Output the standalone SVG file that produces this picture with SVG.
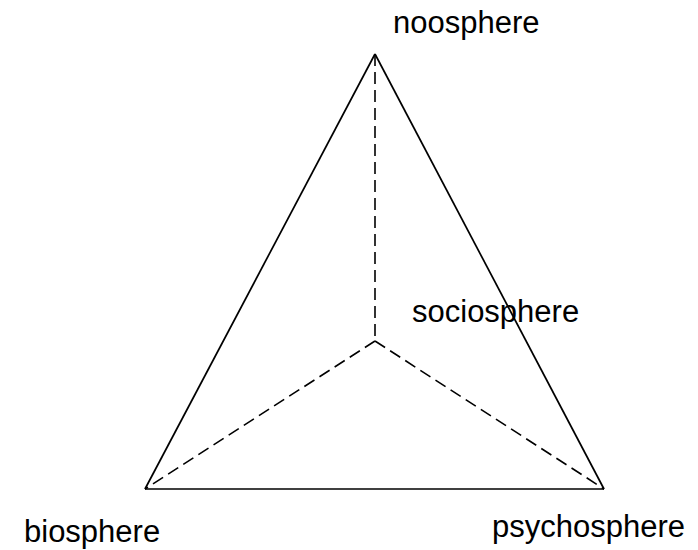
<svg xmlns="http://www.w3.org/2000/svg" width="698" height="550" viewBox="0 0 698 550">
<style>
.lbl{font-family:"Liberation Sans",Arial,sans-serif;font-size:31px;fill:#000}
.solid{stroke:#000;stroke-width:1.7;fill:none}
.dash{stroke:#000;stroke-width:1.6;fill:none;stroke-dasharray:12,6}
</style>
<rect width="698" height="550" fill="#fff"/>
<g id="connectors">
<line class="solid" x1="375" y1="54" x2="145" y2="489"/>
<line class="solid" x1="375" y1="54" x2="604" y2="489"/>
<line class="solid" x1="145" y1="489" x2="604" y2="489" stroke-width="2.5"/>
<line class="dash" x1="375" y1="54" x2="375" y2="341"/>
<line class="dash" x1="375" y1="341" x2="145" y2="489"/>
<line class="dash" x1="375" y1="341" x2="604" y2="489"/>
</g>
<g id="noosphere"><text class="lbl" x="393" y="33">noosphere</text></g>
<g id="sociosphere"><text class="lbl" x="412" y="322">sociosphere</text></g>
<g id="biosphere"><text class="lbl" x="24" y="542">biosphere</text></g>
<g id="psychosphere"><text class="lbl" x="492" y="537">psychosphere</text></g>
</svg>
